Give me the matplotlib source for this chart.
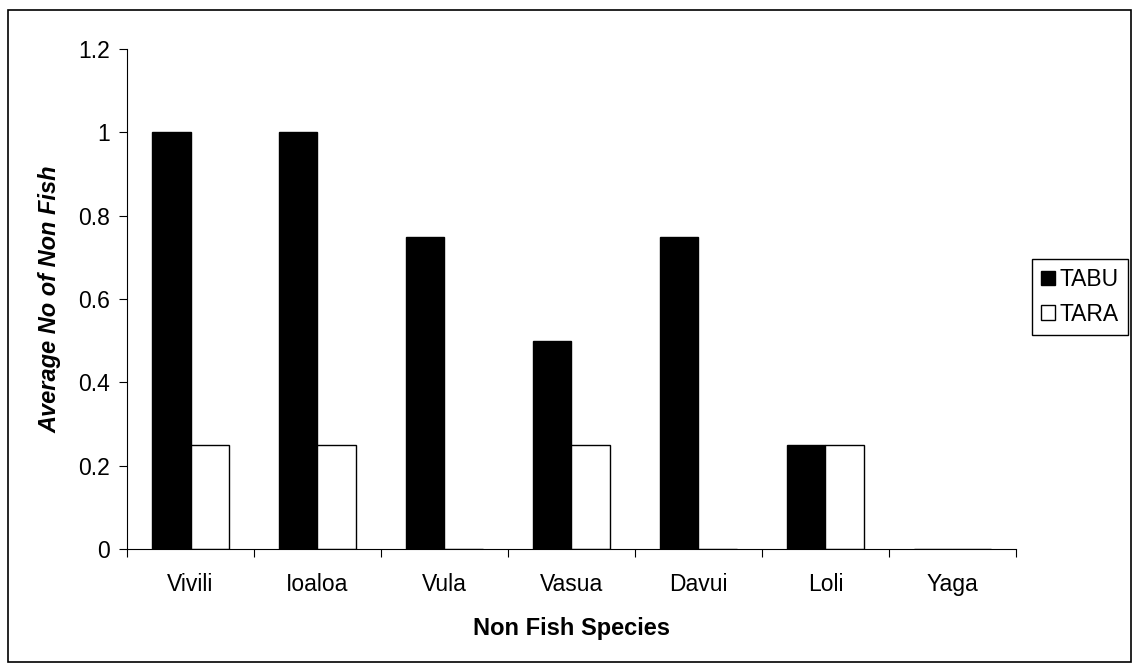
import matplotlib.pyplot as plt
import numpy as np
from matplotlib.patches import Patch, Rectangle

species = ['Vivili', 'Ioaloa', 'Vula', 'Vasua', 'Davui', 'Loli', 'Yaga']
tabu = [1.0, 1.0, 0.75, 0.5, 0.75, 0.25, 0.0]
tara = [0.25, 0.25, 0.0, 0.25, 0.0, 0.25, 0.0]
yticks = [0, 0.2, 0.4, 0.6, 0.8, 1, 1.2]
ytick_labels = ['0', '0.2', '0.4', '0.6', '0.8', '1', '1.2']

plt.rcParams['font.family'] = ['Liberation Sans', 'DejaVu Sans']

fig = plt.figure(figsize=(11.33, 6.64), dpi=100)
ax = fig.add_axes([0.1121, 0.1732, 0.7846, 0.753])

x = np.arange(len(species))
w = 0.3
ax.bar(x - w / 2, tabu, w, color='black', edgecolor='black', linewidth=1,
       label='TABU')
ax.bar(x + w / 2, tara, w, color='white', edgecolor='black', linewidth=1,
       label='TARA')

ax.set_xlim(-0.5, len(species) - 0.5)
ax.set_ylim(0, 1.2)
ax.set_yticks(yticks)
ax.set_yticklabels(ytick_labels)

# category labels in the middle, tick marks between categories
ax.set_xticks(x)
ax.set_xticklabels(species)
ax.set_xticks(np.arange(len(species) + 1) - 0.5, minor=True)
ax.tick_params(axis='x', which='major', length=0, pad=17, labelsize=16.5)
ax.tick_params(axis='x', which='minor', length=5.5, direction='out',
               width=0.8)
ax.tick_params(axis='y', length=5.5, width=0.8, pad=7, labelsize=16.5)

for s in ['top', 'right']:
    ax.spines[s].set_visible(False)
for s in ['left', 'bottom']:
    ax.spines[s].set_linewidth(0.8)

ax.set_xlabel('Non Fish Species', fontsize=17, fontweight='bold')
ax.xaxis.set_label_coords(0.5, -0.137)
ax.set_ylabel('Average No of Non Fish', fontsize=17, fontweight='bold',
              fontstyle='italic')
ax.yaxis.set_label_coords(-0.074, 0.5)

handles = [Patch(facecolor='black', edgecolor='black', label='TABU'),
           Patch(facecolor='white', edgecolor='black', label='TARA')]
leg = fig.legend(handles=handles, loc='upper left',
                 bbox_to_anchor=(0.911, 0.61), fontsize=16.5,
                 fancybox=False, framealpha=1, edgecolor='black',
                 handlelength=0.6, handleheight=0.6, handletextpad=0.2,
                 borderpad=0.4, labelspacing=0.5, borderaxespad=0)
leg.get_frame().set_linewidth(1)

# outer chart border
fig.patches.append(Rectangle((0.007, 0.003), 0.991, 0.982, fill=False,
                             edgecolor='black', linewidth=1.2,
                             transform=fig.transFigure))

fig.savefig('out.png', dpi=100)
